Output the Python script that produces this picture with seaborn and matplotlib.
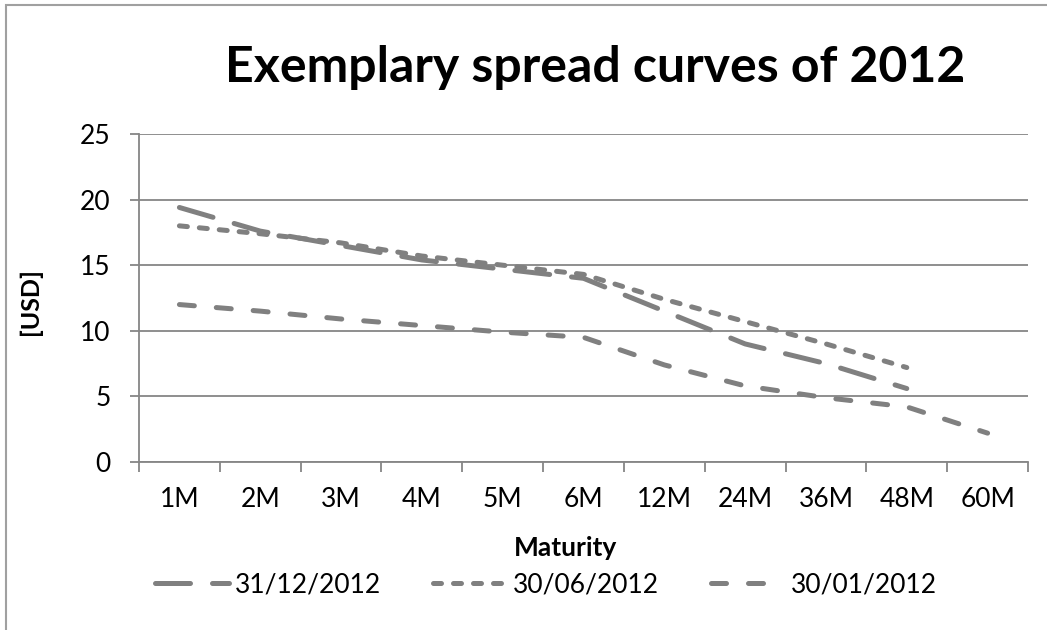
import numpy as np
import pandas as pd
import matplotlib.pyplot as plt
import matplotlib.patches as mpatches
import seaborn as sns

# ---------------- DATA ----------------
maturity = ["1M", "2M", "3M", "4M", "5M", "6M", "12M", "24M", "36M", "48M", "60M"]

spread_dec = [19.4, 17.6, 16.5, 15.4, 14.7, 14.0, 11.5, 9.0, 7.5, 5.6, np.nan]
spread_jun = [18.0, 17.4, 16.7, 15.7, 15.0, 14.3, 12.4, 10.7, 9.0, 7.2, np.nan]
spread_jan = [12.0, 11.5, 10.9, 10.4, 9.9, 9.5, 7.4, 5.8, 4.9, 4.2, 2.2]

series_names = ["31/12/2012", "30/06/2012", "30/01/2012"]

df = pd.DataFrame({
    "Maturity": maturity * 3,
    "spread": spread_dec + spread_jun + spread_jan,
    "date": [d for d in series_names for _ in maturity],
})
df["pos"] = df["Maturity"].map({m: i for i, m in enumerate(maturity)})

# ---------------- STYLE ----------------
sns.set_style("white")
plt.rcParams["font.family"] = ["Lato", "DejaVu Sans"]
plt.rcParams["text.color"] = "black"
plt.rcParams["xtick.labelcolor"] = "black"
plt.rcParams["ytick.labelcolor"] = "black"

GRAY = "#808080"
AX_GRAY = "#868686"

fig = plt.figure(figsize=(10.47, 6.3), dpi=100)
ax = fig.add_axes([139 / 1047, 1 - 462 / 630, (1028 - 139) / 1047, (462 - 134) / 630])

dash_map = {
    "31/12/2012": (7.0, 4.4),
    "30/06/2012": (1.6, 2.4),
    "30/01/2012": (3.0, 4.4),
}

sns.lineplot(
    data=df.dropna(),
    x="pos",
    y="spread",
    style="date",
    style_order=series_names,
    dashes=dash_map,
    color=GRAY,
    linewidth=3.6,
    dash_capstyle="round",
    legend=False,
    ax=ax,
)

# axes
ax.set_xlim(-0.5, len(maturity) - 0.5)
ax.set_ylim(0, 25)
ax.set_yticks(np.arange(0, 26, 5))
ax.set_xticks(range(len(maturity)))
ax.set_xticklabels(maturity)
ax.set_xticks(np.arange(-0.5, len(maturity), 1), minor=True)
ax.yaxis.grid(True, color=AX_GRAY, linewidth=1.3)
ax.xaxis.grid(False)
for s in ["top", "right"]:
    ax.spines[s].set_visible(False)
for s in ["left", "bottom"]:
    ax.spines[s].set_color(AX_GRAY)
    ax.spines[s].set_linewidth(1.3)

ax.tick_params(axis="y", which="major", length=6.5, width=1.3, color=AX_GRAY,
               direction="out", pad=14, labelsize=19, left=True)
ax.tick_params(axis="x", which="major", length=0, pad=18, labelsize=19)
ax.tick_params(axis="x", which="minor", length=7, width=1.3, color=AX_GRAY,
               direction="out", bottom=True)

ax.set_xlabel("")
ax.set_ylabel("")
fig.text(565 / 1047, 1 - 548 / 630, "Maturity", ha="center", va="center",
         fontsize=19, fontweight="bold")
fig.text(30 / 1047, 1 - 301 / 630, "[USD]", ha="center", va="center",
         rotation=90, fontsize=18, fontweight="bold")
fig.text(595 / 1047, 1 - 68 / 630, "Exemplary spread curves of 2012",
         ha="center", va="center", fontsize=36, fontweight="bold")

# legend
handles = [
    plt.Line2D([], [], color=GRAY, linewidth=3.6, dashes=dash_map[n],
               dash_capstyle="round")
    for n in series_names
]
fig.legend(handles, series_names, loc="center", ncol=3,
           bbox_to_anchor=(546 / 1047, 1 - 585 / 630), frameon=False,
           fontsize=19, handlelength=2.8, handletextpad=0.2, columnspacing=2.0)

# outer chart frame
fig.patches.append(mpatches.Rectangle((6 / 1047, -0.1), 1.2, 1.1 - 5 / 630,
                                      transform=fig.transFigure, fill=False,
                                      edgecolor="#a0a0a0", linewidth=1.5))

fig.savefig("out.png", dpi=100)
